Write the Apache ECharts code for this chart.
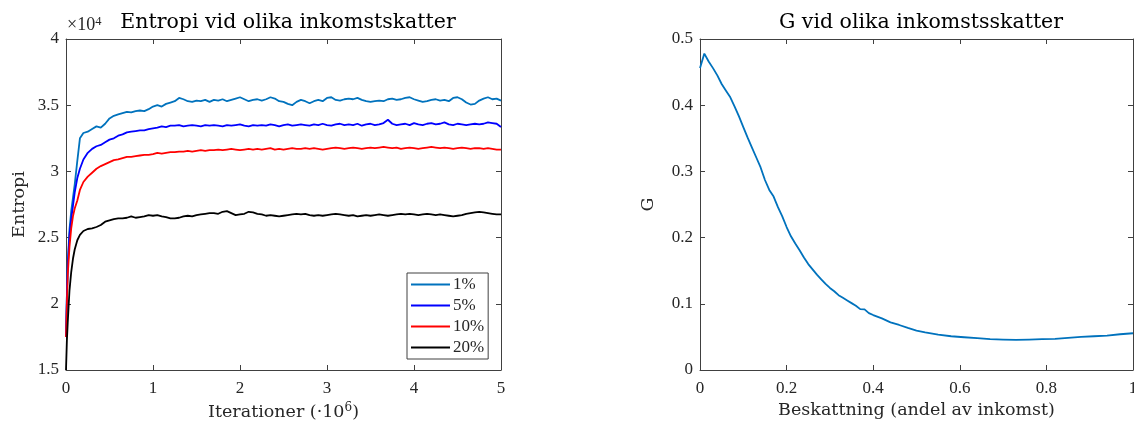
<!DOCTYPE html>
<html>
<head>
<meta charset="utf-8">
<script src="https://cdn.jsdelivr.net/npm/echarts@6/dist/echarts.min.js"></script>
<style>html,body{margin:0;padding:0;background:#fff}#c{width:1134px;height:421px}</style>
</head>
<body>
<div id="c"></div>
<script>
// Left chart: iterations (·10^6)
var iterX = [0,0.01,0.02,0.04,0.06,0.08,0.10,0.13,0.16,0.20,
  0.25,0.30,0.35,0.40,0.45,0.50,0.55,0.60,0.65,0.70,
  0.75,0.80,0.85,0.90,0.95,1.00,1.05,1.10,1.15,1.20,
  1.25,1.30,1.35,1.40,1.45,1.50,1.55,1.60,1.65,1.70,
  1.75,1.80,1.85,1.90,1.95,2.00,2.05,2.10,2.15,2.20,
  2.25,2.30,2.35,2.40,2.45,2.50,2.55,2.60,2.65,2.70,
  2.75,2.80,2.85,2.90,2.95,3.00,3.05,3.10,3.15,3.20,
  3.25,3.30,3.35,3.40,3.45,3.50,3.55,3.60,3.65,3.70,
  3.75,3.80,3.85,3.90,3.95,4.00,4.05,4.10,4.15,4.20,
  4.25,4.30,4.35,4.40,4.45,4.50,4.55,4.60,4.65,4.70,
  4.75,4.80,4.85,4.90,4.95,5.00];
// Entropy (×10^4)
var ent1 = [1.75,2.06,2.30,2.56,2.70,2.80,2.90,3.08,3.25,3.29,
  3.30,3.32,3.34,3.33,3.36,3.40,3.42,3.43,3.44,3.45,
  3.445,3.455,3.46,3.455,3.47,3.49,3.50,3.49,3.51,3.52,
  3.53,3.555,3.545,3.53,3.525,3.535,3.53,3.54,3.525,3.54,
  3.535,3.545,3.53,3.54,3.55,3.56,3.545,3.53,3.54,3.545,
  3.535,3.545,3.56,3.55,3.53,3.525,3.51,3.50,3.525,3.54,
  3.53,3.515,3.53,3.54,3.53,3.555,3.56,3.54,3.535,3.545,
  3.55,3.545,3.555,3.54,3.53,3.525,3.53,3.535,3.53,3.545,
  3.55,3.54,3.545,3.555,3.56,3.545,3.535,3.525,3.53,3.54,
  3.545,3.535,3.54,3.53,3.555,3.56,3.545,3.52,3.505,3.51,
  3.535,3.55,3.56,3.545,3.55,3.535];
var ent5 = [1.75,2.05,2.28,2.52,2.64,2.74,2.84,2.95,3.02,3.09,
  3.14,3.17,3.19,3.20,3.22,3.24,3.25,3.27,3.28,3.295,
  3.30,3.305,3.31,3.31,3.32,3.325,3.33,3.34,3.335,3.345,
  3.345,3.35,3.34,3.345,3.35,3.345,3.34,3.35,3.345,3.35,
  3.345,3.34,3.35,3.345,3.35,3.355,3.345,3.34,3.35,3.345,
  3.35,3.345,3.355,3.35,3.34,3.35,3.355,3.345,3.35,3.355,
  3.35,3.345,3.355,3.35,3.36,3.35,3.345,3.355,3.36,3.35,
  3.355,3.35,3.36,3.345,3.355,3.36,3.35,3.355,3.365,3.39,
  3.36,3.35,3.355,3.36,3.35,3.365,3.355,3.35,3.36,3.365,
  3.355,3.36,3.37,3.355,3.35,3.36,3.355,3.35,3.355,3.36,
  3.355,3.36,3.37,3.365,3.36,3.335];
var ent10 = [1.75,2.00,2.22,2.43,2.57,2.66,2.72,2.78,2.86,2.92,
  2.96,2.99,3.02,3.04,3.055,3.07,3.085,3.09,3.10,3.11,
  3.11,3.115,3.12,3.125,3.125,3.13,3.14,3.135,3.14,3.145,
  3.145,3.15,3.15,3.155,3.15,3.155,3.16,3.155,3.16,3.16,
  3.165,3.16,3.165,3.17,3.165,3.16,3.165,3.17,3.165,3.17,
  3.165,3.17,3.175,3.165,3.17,3.165,3.17,3.175,3.17,3.17,
  3.175,3.17,3.175,3.17,3.165,3.17,3.175,3.18,3.175,3.17,
  3.175,3.18,3.175,3.17,3.175,3.18,3.175,3.18,3.185,3.18,
  3.175,3.18,3.17,3.175,3.18,3.175,3.17,3.175,3.18,3.185,
  3.18,3.175,3.18,3.175,3.17,3.175,3.18,3.175,3.17,3.175,
  3.175,3.17,3.175,3.17,3.165,3.165];
var ent20 = [1.50,1.72,1.86,2.10,2.24,2.34,2.41,2.48,2.52,2.55,
  2.565,2.57,2.58,2.595,2.62,2.63,2.64,2.645,2.645,2.65,
  2.66,2.65,2.655,2.66,2.67,2.665,2.67,2.66,2.655,2.645,
  2.645,2.65,2.66,2.665,2.66,2.67,2.675,2.68,2.685,2.685,
  2.68,2.695,2.70,2.685,2.67,2.675,2.68,2.695,2.69,2.68,
  2.675,2.665,2.67,2.665,2.66,2.665,2.67,2.675,2.68,2.675,
  2.68,2.67,2.665,2.67,2.665,2.67,2.675,2.68,2.675,2.67,
  2.665,2.67,2.66,2.665,2.67,2.665,2.67,2.675,2.67,2.665,
  2.67,2.675,2.68,2.675,2.68,2.675,2.67,2.675,2.68,2.675,
  2.67,2.675,2.67,2.665,2.66,2.665,2.67,2.68,2.685,2.69,
  2.695,2.69,2.685,2.68,2.675,2.675];
var legendNames = ['1%','5%','10%','20%'];

// Right chart: tax share vs G
var taxX = [0,0.01,0.02,0.03,0.04,0.05,0.06,0.07,0.08,0.09,
  0.10,0.11,0.12,0.13,0.14,0.15,0.16,0.17,0.18,0.19,
  0.20,0.21,0.22,0.23,0.24,0.25,0.26,0.27,0.28,0.29,
  0.30,0.31,0.32,0.33,0.34,0.35,0.36,0.37,0.38,0.39,
  0.40,0.42,0.44,0.46,0.48,0.50,0.52,0.55,0.58,0.61,
  0.64,0.67,0.70,0.73,0.76,0.79,0.82,0.85,0.88,0.91,
  0.94,0.97,1.00];
var gVals = [0.456,0.478,0.466,0.456,0.445,0.432,0.422,0.412,0.398,0.383,
  0.367,0.351,0.336,0.321,0.306,0.287,0.272,0.262,0.246,0.232,
  0.216,0.202,0.191,0.181,0.170,0.160,0.152,0.144,0.137,0.130,
  0.124,0.119,0.113,0.109,0.105,0.101,0.097,0.092,0.0915,0.086,
  0.083,0.078,0.072,0.068,0.0635,0.0595,0.057,0.0535,0.051,0.0495,
  0.048,0.0465,0.046,0.0455,0.046,0.0465,0.047,0.0485,0.050,0.051,
  0.052,0.054,0.0555];

var FONT = 'Liberation Serif';
var WFONT = 'DejaVu Serif';
var TXT = '#262626';
function pairs(xs, ys){ return xs.map(function(x,i){ return [x, ys[i]]; }); }
function axisBase(){
  return {
    axisLine:{show:true,onZero:false,lineStyle:{color:'#404040',width:1}},
    axisTick:{show:true,inside:true,length:5,lineStyle:{color:'#404040',width:1}},
    splitLine:{show:false},
    axisLabel:{color:TXT,fontFamily:FONT,fontSize:17,margin:10}
  };
}
function mk(extra){ var a = axisBase(); for (var k in extra){ if (typeof extra[k]==='object' && a[k] && !Array.isArray(extra[k])) { for (var j in extra[k]) a[k][j]=extra[k][j]; } else a[k]=extra[k]; } return a; }

var nameStyle = {fontFamily:WFONT,fontSize:17.5,color:TXT,
  rich:{sup:{fontFamily:WFONT,fontSize:12,color:TXT,verticalAlign:'top',lineHeight:21}}};

var chart = echarts.init(document.getElementById('c'), null, {renderer:'canvas'});
chart.setOption({
  animation:false,
  backgroundColor:'#fff',
  title:[
    {text:'Entropi vid olika inkomstskatter',left:283,top:7,textAlign:'center',
     textStyle:{fontFamily:WFONT,fontSize:20.5,fontWeight:'normal',color:'#000'}},
    {text:'G vid olika inkomstsskatter',left:916,top:7,textAlign:'center',
     textStyle:{fontFamily:WFONT,fontSize:20.5,fontWeight:'normal',color:'#000'}}
  ],
  graphic:[
    {type:'text',left:67,top:15,style:{text:'×10{s|4}',fontFamily:FONT,fontSize:18,fill:TXT,
      rich:{s:{fontFamily:FONT,fontSize:12.5,fill:TXT,verticalAlign:'top',lineHeight:20}}}}
  ],
  legend:{
    data:legendNames,orient:'vertical',left:407,top:273,
    icon:'rect',itemWidth:39,itemHeight:2,itemGap:4,
    padding:[3,4,3,4],borderColor:'#404040',borderWidth:1,backgroundColor:'#fff',
    textStyle:{fontFamily:FONT,fontSize:17,color:TXT,padding:[0,0,0,-2]}
  },
  grid:[
    {left:66,right:633,top:39,bottom:51,outerBoundsMode:'none'},
    {left:700,right:1,top:39,bottom:51,outerBoundsMode:'none'}
  ],
  xAxis:[
    mk({type:'value',gridIndex:0,min:0,max:5,interval:1,position:'bottom',
       name:'Iterationer (·10{sup|6})',nameLocation:'middle',nameGap:29,
       nameTextStyle:nameStyle}),
    mk({type:'value',gridIndex:0,min:0,max:5,interval:1,position:'top',axisLabel:{show:false}}),
    mk({type:'value',gridIndex:1,min:0,max:1,interval:0.2,position:'bottom',
       name:'Beskattning (andel av inkomst)',nameLocation:'middle',nameGap:29,
       nameTextStyle:nameStyle}),
    mk({type:'value',gridIndex:1,min:0,max:1,interval:0.2,position:'top',axisLabel:{show:false}})
  ],
  yAxis:[
    mk({type:'value',gridIndex:0,min:1.5,max:4,interval:0.5,position:'left',
       name:'Entropi',nameLocation:'middle',nameGap:38,
       nameTextStyle:nameStyle,axisLabel:{margin:7}}),
    mk({type:'value',gridIndex:0,min:1.5,max:4,interval:0.5,position:'right',axisLabel:{show:false}}),
    mk({type:'value',gridIndex:1,min:0,max:0.5,interval:0.1,position:'left',
       name:'G',nameLocation:'middle',nameGap:43,
       nameTextStyle:nameStyle,axisLabel:{margin:7}}),
    mk({type:'value',gridIndex:1,min:0,max:0.5,interval:0.1,position:'right',axisLabel:{show:false}})
  ],
  series:[
    {name:'1%',type:'line',xAxisIndex:0,yAxisIndex:0,data:pairs(iterX,ent1),showSymbol:false,
     lineStyle:{color:'#0072BD',width:1.8},itemStyle:{color:'#0072BD'}},
    {name:'5%',type:'line',xAxisIndex:0,yAxisIndex:0,data:pairs(iterX,ent5),showSymbol:false,
     lineStyle:{color:'#0000FF',width:1.8},itemStyle:{color:'#0000FF'}},
    {name:'10%',type:'line',xAxisIndex:0,yAxisIndex:0,data:pairs(iterX,ent10),showSymbol:false,
     lineStyle:{color:'#FF0000',width:1.8},itemStyle:{color:'#FF0000'}},
    {name:'20%',type:'line',xAxisIndex:0,yAxisIndex:0,data:pairs(iterX,ent20),showSymbol:false,
     lineStyle:{color:'#000000',width:1.8},itemStyle:{color:'#000000'}},
    {name:'G',type:'line',xAxisIndex:2,yAxisIndex:2,data:pairs(taxX,gVals),showSymbol:false,
     lineStyle:{color:'#0072BD',width:1.8},itemStyle:{color:'#0072BD'}}
  ]
});
</script>
</body>
</html>
